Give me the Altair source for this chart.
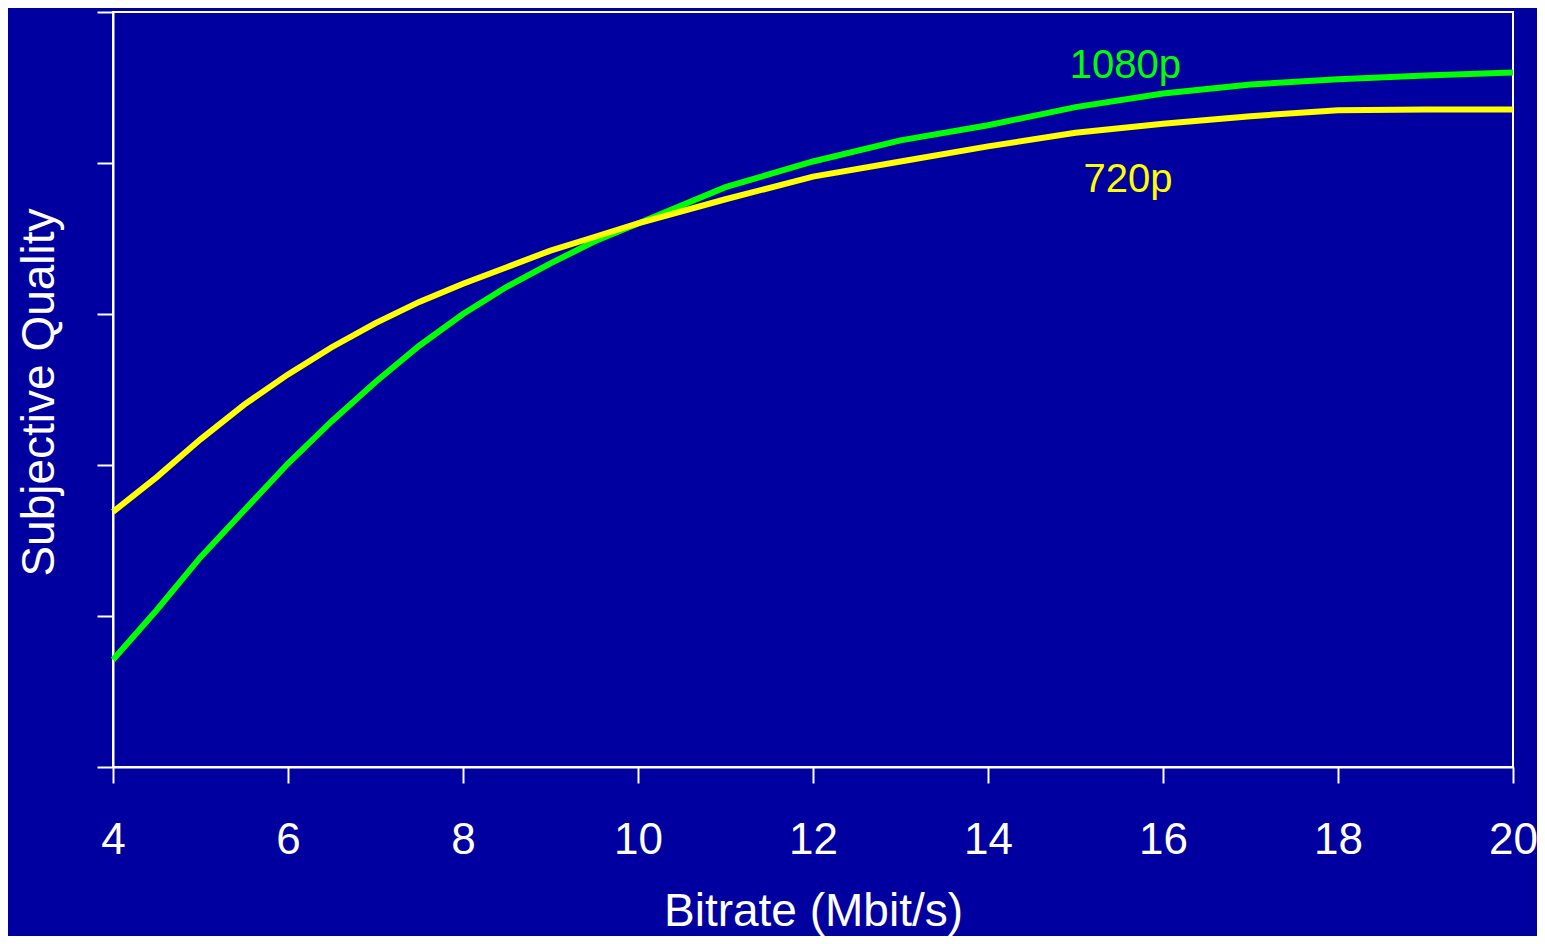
import altair as alt
import pandas as pd

bitrate = [4, 4.5, 5, 5.5, 6, 6.5, 7, 7.5, 8, 8.5, 9, 9.5, 10, 11, 12, 13, 14, 15, 16, 17, 18, 19, 20]
q_720p = [1.69, 1.92, 2.17, 2.40, 2.60, 2.78, 2.94, 3.08, 3.20, 3.31, 3.42, 3.51, 3.60,
          3.76, 3.91, 4.01, 4.11, 4.20, 4.26, 4.31, 4.35, 4.355, 4.355]
q_1080p = [0.71, 1.04, 1.39, 1.70, 2.01, 2.29, 2.55, 2.79, 3.00, 3.18, 3.335, 3.48, 3.60,
           3.84, 4.01, 4.15, 4.25, 4.37, 4.46, 4.52, 4.555, 4.58, 4.60]

series_names = ["1080p", "720p"]
series_colors = ["#00FF00", "#FFFF00"]
label_x = [15.57, 15.6]
label_y = [4.565, 3.81]

x_ticks = [4, 6, 8, 10, 12, 14, 16, 18, 20]
y_ticks = [0, 1, 2, 3, 4, 5]

rows = []
for b, v in zip(bitrate, q_1080p):
    rows.append({"bitrate": b, "quality": v, "series": "1080p"})
for b, v in zip(bitrate, q_720p):
    rows.append({"bitrate": b, "quality": v, "series": "720p"})
df = pd.DataFrame(rows)

labels = pd.DataFrame({"bitrate": label_x, "quality": label_y, "series": series_names})

FONT = "Liberation Sans"
BG = "#0000A0"

x_enc = alt.X("bitrate:Q",
              scale=alt.Scale(domain=[4, 20], nice=False, zero=False),
              axis=alt.Axis(values=x_ticks, format="d", title="Bitrate (Mbit/s)", grid=False,
                            labelFontSize=44, labelPadding=35, labelFont=FONT,
                            labelColor="white", labelFlush=False, labelBound=False,
                            titleFont=FONT, titleFontSize=46, titleFontWeight="normal",
                            titleColor="white", titleBaseline="alphabetic",
                            titleX=700, titleY=158, titleAnchor="middle", titleAlign="center"))
y_enc = alt.Y("quality:Q",
              scale=alt.Scale(domain=[0, 5], nice=False),
              axis=alt.Axis(values=y_ticks, labels=False, grid=False,
                            title="Subjective Quality",
                            titleFont=FONT, titleFontSize=46, titleFontWeight="normal",
                            titleColor="white", titleBaseline="alphabetic",
                            titleAngle=270, titleX=-60, titleY=380,
                            titleAlign="center"))
color_enc = alt.Color("series:N",
                      scale=alt.Scale(domain=series_names, range=series_colors),
                      legend=None)

lines = alt.Chart(df).mark_line(strokeWidth=6).encode(
    x=x_enc, y=y_enc, color=color_enc, detail="series:N"
)

texts = alt.Chart(labels).mark_text(
    font=FONT, fontSize=40, align="center", baseline="alphabetic"
).encode(
    x="bitrate:Q", y="quality:Q", text="series:N", color=color_enc
)

chart = alt.layer(lines, texts).properties(
    width=1400, height=755,
    padding={"left": 105, "top": 4, "right": 24, "bottom": 169},
    autosize=alt.AutoSizeParams(type="none"),
    background=BG,
).configure_view(
    stroke="white", strokeWidth=2
).configure_axis(
    domainColor="white", domainWidth=2,
    tickColor="white", tickWidth=2, tickSize=16,
)

chart.save("out.html", embed_options={"renderer": "svg", "actions": False})
